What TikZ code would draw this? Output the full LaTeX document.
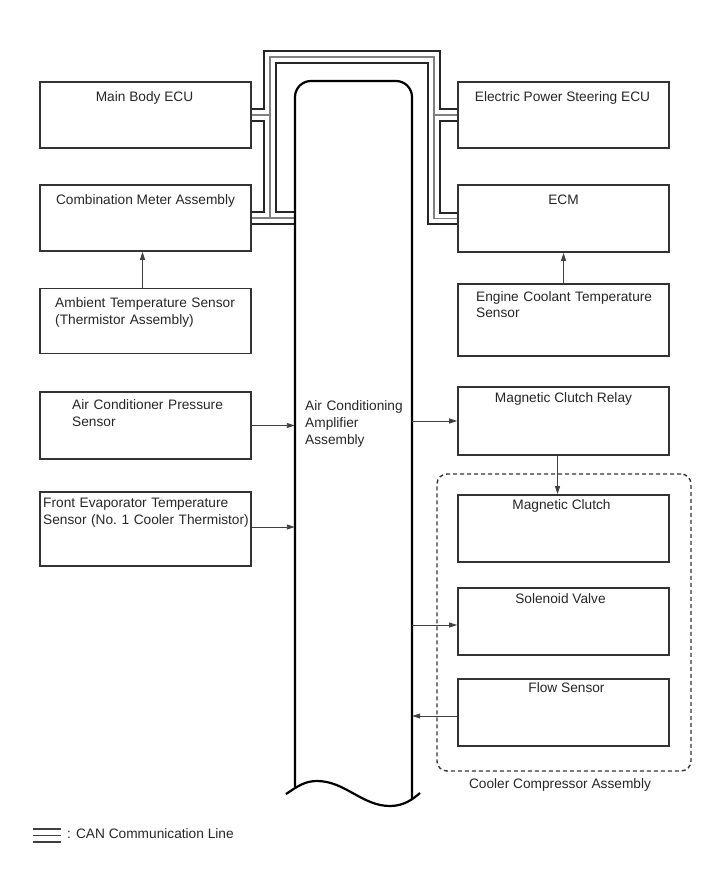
\documentclass[tikz,border=0pt]{standalone}
\usepackage{fontspec}
\setmainfont{Liberation Sans}
\usetikzlibrary{arrows.meta,calc}
\pgfdeclarelayer{bg}
\pgfsetlayers{bg,main}
\begin{document}
\begin{tikzpicture}[x=1pt,y=-1pt,
  box/.style={draw=black!80, line width=1.8pt, inner sep=0pt, minimum width=211pt},
  lbl/.style={font=\fontsize{13.7}{17}\selectfont, text=black!85, inner sep=0pt},
  mlbl/.style={lbl, align=left, text width=215pt, anchor=base west},
  arr/.style={draw=black!75, line width=0.9pt, -{Triangle[length=8pt,width=5pt]}},
  canA/.style={line width=13.5pt, draw=black!85},
  canB/.style={line width=9.5pt, draw=white},
  canC/.style={line width=1.3pt, draw=black!50},
  ampline/.style={line width=2.2pt, draw=black},
  legline/.style={line width=1.8pt, draw=black!75},
]
\useasboundingbox (0,0) rectangle (713,882);

% left boxes
\node[box, minimum height=66pt] (mbecu) at (145.5,115) {};
\node[box, minimum height=66pt] (cmeter) at (145.5,218) {};
\node[box, minimum height=65pt] (ambient) at (145.5,321) {};
\node[box, minimum height=67pt] (acpress) at (145.5,425.5) {};
\node[box, minimum height=74pt] (frontevap) at (145.5,529) {};
% right boxes
\node[box, minimum height=66pt] (eps) at (563.5,115) {};
\node[box, minimum height=67pt] (ecm) at (563.5,218.5) {};
\node[box, minimum height=72pt] (ect) at (563.5,320) {};
\node[box, minimum height=68pt] (relay) at (563.5,421) {};
\node[box, minimum height=67pt] (clutch) at (563.5,528.5) {};
\node[box, minimum height=67pt] (solenoid) at (563.5,621.5) {};
\node[box, minimum height=67pt] (flow) at (563.5,712.5) {};
% cooler compressor group
\node[draw=black!80, line width=1.4pt, dash pattern=on 4pt off 3pt, rounded corners=10pt,
      minimum width=254pt, minimum height=297pt, inner sep=0pt] (cooler) at (564,622.5) {};
% amplifier (invisible anchor node)
\node[inner sep=0pt, minimum width=117pt, minimum height=712pt] (amp) at (353.5,437) {};
\draw[ampline, rounded corners=16pt] (295,787) -- (295,81) -- (412,81) -- (412,800);
\draw[ampline] (286,794) .. controls (298,786) and (305,781) .. (317,781)
  .. controls (345,781) and (362,806) .. (390,806)
  .. controls (403,806) and (412,800) .. (420,793);

% texts
\node[lbl, anchor=base] (t-mbecu) at ($(mbecu.north)+(-1,20)$) {Main Body ECU};
\node[lbl, anchor=base] (t-cmeter) at ($(cmeter.north)+(0,20)$) {Combination Meter Assembly};
\node[mlbl] (t-ambient) at (55,307) {Ambient Temperature Sensor\\(Thermistor Assembly)};
\node[mlbl] (t-acpress) at (72,409) {Air Conditioner Pressure\\Sensor};
\node[mlbl] (t-frontevap) at (43,507) {Front Evaporator Temperature\\Sensor (No.\ 1 Cooler Thermistor)};
\node[mlbl, text width=110pt] (t-amp) at (305,410) {Air Conditioning\\Amplifier\\Assembly};
\node[lbl, anchor=base] (t-eps) at ($(eps.north)+(-1,20)$) {Electric Power Steering ECU};
\node[lbl, anchor=base] (t-ecm) at ($(ecm.north)+(0,20)$) {ECM};
\node[mlbl] (t-ect) at (476,301) {Engine Coolant Temperature\\Sensor};
\node[lbl, anchor=base] (t-relay) at ($(relay.north)+(0,16)$) {Magnetic Clutch Relay};
\node[lbl, anchor=base] (t-clutch) at ($(clutch.north)+(-2,15)$) {Magnetic Clutch};
\node[lbl, anchor=base] (t-solenoid) at ($(solenoid.north)+(-3,16)$) {Solenoid Valve};
\node[lbl, anchor=base] (t-flow) at ($(flow.north)+(3,14)$) {Flow Sensor};
\node[lbl, anchor=base] (t-cooler) at (560,788) {Cooler Compressor Assembly};

% CAN bus
\coordinate (canTL) at (270,57);
\coordinate (canTR) at (434,57);
\begin{pgfonlayer}{bg}
\foreach \s in {canA,canB,canC}{
  \draw[\s] (cmeter.east) -- (cmeter.east -| amp.west);
  \draw[\s] (canTL |- cmeter.east) -- (canTL) -- (canTR) -- (canTR |- ecm.west) -- (ecm.west);
  \draw[\s] (mbecu.east) -- (mbecu.east -| canTL);
  \draw[\s] (eps.west) -- (eps.west -| canTR);
}
\end{pgfonlayer}

% arrows
\draw[arr] ([xshift=-3pt]ambient.north) -- ([xshift=-3pt]cmeter.south);
\draw[arr] (ect.north) -- (ect.north |- ecm.south);
\draw[arr] (acpress.east) -- (acpress.east -| amp.west);
\draw[arr] ([yshift=2pt]frontevap.east) -- ([yshift=2pt]frontevap.east -| amp.west);
\draw[arr] (relay.west -| amp.east) -- (relay.west);
\draw[arr] ([xshift=-6pt]relay.south) -- ([xshift=-6pt]clutch.north);
\draw[arr] ([yshift=-3.5pt]solenoid.west -| amp.east) -- ([yshift=-3.5pt]solenoid.west);
\draw[arr] ([yshift=-3.5pt]flow.west) -- ([yshift=-3.5pt]flow.west -| amp.east);

% legend
\coordinate (legA) at (33,829);
\coordinate (legB) at (61,829);
\draw[legline] (legA) -- (legB);
\draw[legline] ([yshift=-6.5pt]legA) -- ([yshift=-6.5pt]legB);
\draw[legline] ([yshift=-13pt]legA) -- ([yshift=-13pt]legB);
\node[lbl, anchor=base west] (legend) at (67,838) {: CAN Communication Line};
\end{tikzpicture}
\end{document}
